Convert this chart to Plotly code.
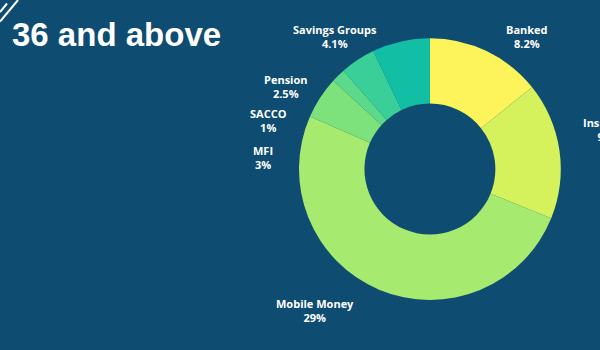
import plotly.graph_objects as go

# Share of respondents aged 36+ using each financial service (%)
services = ["Banked", "Insurance", "Mobile Money", "MFI", "SACCO", "Pension", "Savings Groups"]
shares = [8.2, 9.7, 29, 3, 1, 2.5, 4.1]
slice_colors = ["#fcf45a", "#d5f25c", "#a7ea70", "#7de27c", "#5cd98a", "#3acf98", "#12bfa5"]

BG = "#0f4c71"
W, H = 600, 350

# where each two-line callout sits around the ring (pixels from top-left)
callout_xy = {
    "Banked": (527, 36),
    "Insurance": (610, 129),
    "Mobile Money": (315, 310),
    "MFI": (263, 157),
    "SACCO": (268, 121),
    "Pension": (286, 86),
    "Savings Groups": (335, 36),
}

fig = go.Figure(
    go.Pie(
        labels=services,
        values=shares,
        hole=0.5,
        sort=False,
        direction="clockwise",
        rotation=0,
        marker=dict(colors=slice_colors, line=dict(width=0)),
        textinfo="none",
        hoverinfo="label+value",
        automargin=False,
        showlegend=False,
        domain=dict(x=[0.498, 0.935], y=[0.143, 0.891]),
    )
)

for name, val in zip(services, shares):
    px, py = callout_xy[name]
    fig.add_annotation(
        text=f"<b>{name}</b><br><b>{val:g}%</b>",
        xref="paper", yref="paper", x=px / W, y=1 - py / H,
        xanchor="center", yanchor="middle", align="center", showarrow=False,
        font=dict(family="Open Sans", size=11, color="white"),
    )

# decorative strokes in the top-left corner (pixel coordinates converted to paper)
for (px0, py0), (px1, py1) in [((0, 12), (7, 3.5)), ((0, 21.5), (18, 0))]:
    fig.add_shape(type="line", xref="paper", yref="paper",
                  x0=px0 / W, y0=1 - py0 / H, x1=px1 / W, y1=1 - py1 / H,
                  line=dict(color="white", width=2))

fig.add_annotation(
    text="<b>36 and above</b>",
    xref="paper", yref="paper", x=0.017, y=0.9586,
    xanchor="left", yanchor="top", showarrow=False,
    font=dict(family="Liberation Sans", size=33, color="white"),
)

fig.update_layout(
    width=W, height=H,
    margin=dict(l=0, r=0, t=0, b=0),
    paper_bgcolor=BG, plot_bgcolor=BG,
)

fig.write_html("out.html")
